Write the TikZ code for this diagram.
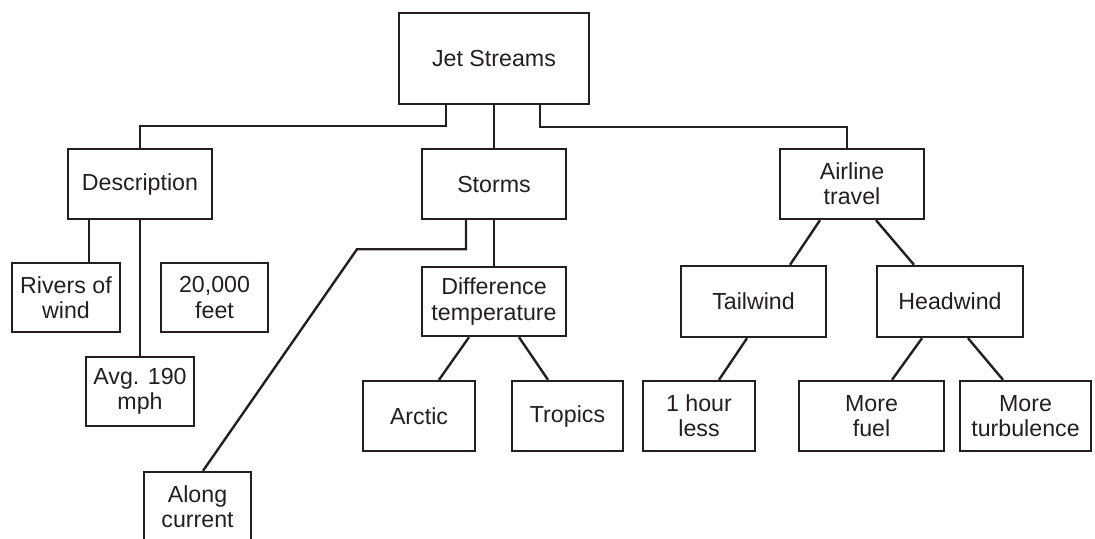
\documentclass[tikz,border=0pt]{standalone}
\usepackage{fontspec}
\setmainfont{Liberation Sans}
\usetikzlibrary{positioning,calc}
\definecolor{ink}{HTML}{231F20}
\tikzset{box/.style={draw=ink,line width=1.2pt,align=center,text=ink,font=\fontsize{11.6}{12.6}\selectfont,inner sep=0pt,minimum height=35pt},link/.style={draw=ink,line width=1.2pt}}

\begin{document}
\begin{tikzpicture}[x=0.5pt,y=-0.5pt]
\useasboundingbox (0,0) rectangle (1095,538);
\clip (0,0) rectangle (1095,538);
\node[box,minimum width=95pt,minimum height=45.5pt] (jet) at (494,58.5) {Jet Streams};
\node[box,minimum width=72pt] (desc) at (140,184) {Description};
\node[box,minimum width=72pt] (storms) at (494,184) {Storms};
\node[box,minimum width=72pt] (air) at (852,184) {Airline\\travel};
\node[box,minimum width=54pt,minimum height=34.5pt] (rivers) at (66,297.5) {Rivers of\\wind};
\node[box,minimum width=53.5pt,minimum height=34.5pt] (feet) at (214.5,297.5) {20,000\\feet};
\node[box,minimum width=54pt,minimum height=34.5pt] (avg) at (140,391.5) {Avg. 190\\mph};
\node[box,minimum width=53.5pt] (along) at (197.5,507) {Along\\current};
\node[box,minimum width=72pt,minimum height=34.5pt] (diff) at (494,301.5) {Difference\\temperature};
\node[box,minimum width=56pt] (arctic) at (419,416) {Arctic};
\node[box,minimum width=55.5pt] (trop) at (567.5,416) {Tropics};
\node[box,minimum width=72.5pt,minimum height=35.5pt] (tail) at (753.5,301.5) {Tailwind};
\node[box,minimum width=73pt,minimum height=35.5pt] (head) at (950,301.5) {Headwind};
\node[box,minimum width=56pt] (hour) at (699,416) {1 hour\\less};
\node[box,minimum width=72.5pt] (fuel) at (871.5,416) {More\\fuel};
\node[box,minimum width=65.5pt] (turb) at (1025.5,416) {More\\turbulence};
% top level
\draw[link] ([xshift=-24pt]jet.south) -- ++(0,21) -| (desc.north);
\draw[link] (jet.south) -- (storms.north);
\draw[link] ([xshift=23pt]jet.south) -- ++(0,22) -| ([xshift=-2.5pt]air.north);
% description
\draw[link] ([xshift=11pt]desc.south west) -- ([xshift=11pt]desc.south west |- rivers.north);
\draw[link] (desc.south) -- (avg.north);
% storms
\draw[link] ([xshift=-14pt]storms.south) -- ++(0,29) -- ++(-109,0) -- ([xshift=2.75pt]along.north);
\draw[link] (storms.south) -- (diff.north);
\draw[link] ([xshift=-12.5pt]diff.south) -- ([xshift=10pt]arctic.north);
\draw[link] ([xshift=12.5pt]diff.south) -- ([xshift=-9.75pt]trop.north);
% airline travel
\draw[link] ([xshift=-16pt]air.south) -- ([xshift=18.25pt]tail.north);
\draw[link] ([xshift=12pt]air.south) -- ([xshift=-18pt]head.north);
\draw[link] ([xshift=-3.25pt]tail.south) -- ([xshift=10pt]hour.north);
\draw[link] ([xshift=-14pt]head.south) -- ([xshift=10.25pt]fuel.north);
\draw[link] ([xshift=9pt]head.south) -- ([xshift=-11.25pt]turb.north);
\end{tikzpicture}
\end{document}
